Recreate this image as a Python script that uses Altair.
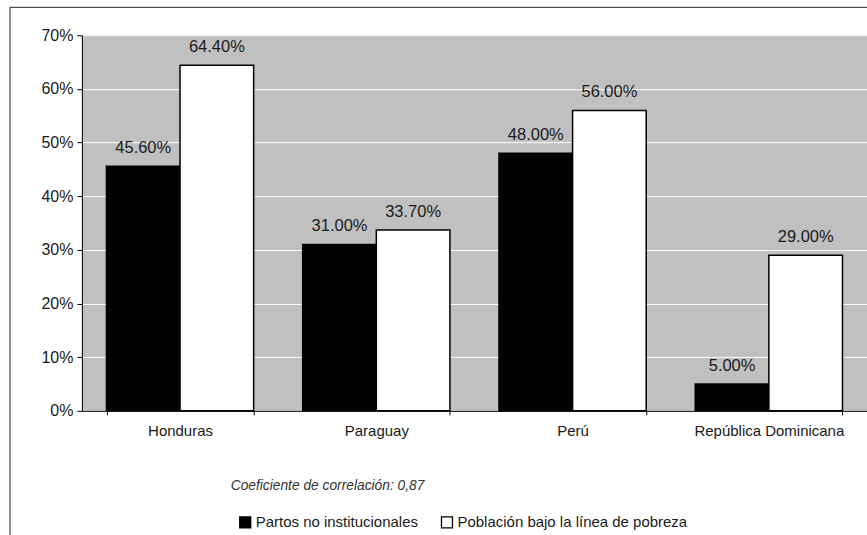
import altair as alt
import pandas as pd

# Countries and the two series, in percent
countries = ["Honduras", "Paraguay", "Perú", "República Dominicana"]
partos = [45.6, 31.0, 48.0, 5.0]
pobreza = [64.4, 33.7, 56.0, 29.0]
series = ["Partos no institucionales", "Población bajo la línea de pobreza"]
y_ticks = [0, 0.1, 0.2, 0.3, 0.4, 0.5, 0.6, 0.7]
note = "Coeficiente de correlación: 0,87"

FONT = "Liberation Sans"
INK = "#1a1a1a"

rows = []
for c, a, b in zip(countries, partos, pobreza):
    rows.append({"pais": c, "serie": series[0], "valor": a / 100, "etiqueta": f"{a:.2f}%"})
    rows.append({"pais": c, "serie": series[1], "valor": b / 100, "etiqueta": f"{b:.2f}%"})
df = pd.DataFrame(rows)

x_enc = alt.X(
    "pais:N",
    sort=countries,
    title=None,
    scale=alt.Scale(paddingInner=0.25, paddingOuter=0.125),
    axis=alt.Axis(
        labelAngle=0,
        tickBand="extent",
        tickSize=4,
        tickColor="black",
        domainColor="black",
        labelFontSize=15,
        labelFont=FONT,
        labelColor=INK,
        labelPadding=9,
        labelLimit=0,
    ),
)
y_enc = alt.Y(
    "valor:Q",
    title=None,
    scale=alt.Scale(domain=[0, 0.7], nice=False),
    axis=alt.Axis(
        values=y_ticks,
        format=".0%",
        grid=True,
        gridColor="white",
        gridWidth=1,
        tickSize=5,
        tickColor="black",
        domainColor="black",
        labelFontSize=16,
        labelFont=FONT,
        labelColor=INK,
        labelPadding=4,
    ),
)
off_enc = alt.XOffset("serie:N", sort=series)

bars = alt.Chart(df).mark_bar(stroke="black", strokeWidth=1.5).encode(
    x=x_enc,
    y=y_enc,
    xOffset=off_enc,
    color=alt.Color(
        "serie:N",
        sort=series,
        scale=alt.Scale(domain=series, range=["black", "white"]),
        legend=alt.Legend(
            title=None,
            orient="none",
            legendX=156,
            legendY=480,
            direction="horizontal",
            symbolType="square",
            symbolSize=121,
            symbolStrokeColor="black",
            symbolStrokeWidth=1.3,
            labelFontSize=15,
            labelFont=FONT,
            labelColor=INK,
            labelOffset=3,
            labelLimit=0,
            columnPadding=20,
        ),
    ),
)

labels = alt.Chart(df).mark_text(
    baseline="middle", dy=-18.5, fontSize=16.5, font=FONT, color=INK
).encode(
    x=alt.X("pais:N", sort=countries),
    y="valor:Q",
    xOffset=off_enc,
    text="etiqueta:N",
)

one = pd.DataFrame({"k": [0]})

frame_top = alt.Chart(one).mark_rule(color="#222", strokeWidth=1).encode(
    x=alt.value(-72), x2=alt.value(800), y=alt.value(-28)
)
frame_left = alt.Chart(one).mark_rule(color="#222", strokeWidth=1).encode(
    x=alt.value(-72), y=alt.value(-28), y2=alt.value(510)
)

note_text = alt.Chart(pd.DataFrame({"t": [note]})).mark_text(
    align="left", baseline="middle", fontSize=13.8, fontStyle="italic",
    font=FONT, color="#333"
).encode(x=alt.value(149), y=alt.value(451), text="t:N")

chart = (
    alt.layer(bars, labels, frame_top, frame_left, note_text)
    .properties(
        width=786,
        height=376,
        autosize=alt.AutoSizeParams(type="none"),
        padding={"left": 82, "top": 35, "right": 0, "bottom": 124},
        background="white",
    )
    .configure_view(fill="#C0C0C0", stroke=None)
)

chart.save("out.html", embed_options={"renderer": "svg", "actions": False})
